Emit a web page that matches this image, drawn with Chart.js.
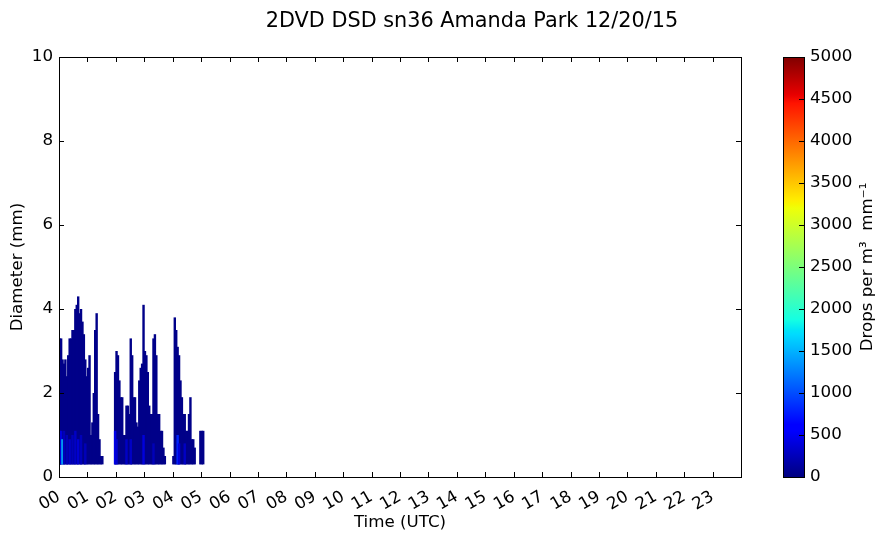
<!DOCTYPE html>
<html>
<head>
<meta charset="utf-8">
<script src="https://cdn.jsdelivr.net/npm/chart.js@4.4.1/dist/chart.umd.min.js"></script>
<style>
  html, body { margin: 0; padding: 0; background: #fff; }
  #wrap { position: relative; width: 890px; height: 543px; }
  #dsd { position: absolute; left: 0; top: 0; }
  #cbar { position: absolute; left: 750px; top: 0; }
</style>
</head>
<body>
<div id="wrap">
  <canvas id="dsd" width="750" height="543"></canvas>
  <canvas id="cbar" width="140" height="543"></canvas>
</div>
<script>
// ============================================================
// 2DVD DSD sn36 - Amanda Park 12/20/15
// ============================================================

const hourLabels = ["00", "01", "02", "03", "04", "05", "06", "07", "08", "09", "10", "11",
                    "12", "13", "14", "15", "16", "17", "18", "19", "20", "21", "22", "23"];
const diameterTicks = [0, 2, 4, 6, 8, 10];
const countTicks = [0, 500, 1000, 1500, 2000, 2500, 3000, 3500, 4000, 4500, 5000];

// 3-minute bins (start minute) and largest diameter seen (mm)
const binMinutes = [
    0, 3, 6, 9, 12, 15, 18, 21, 24, 27, 30, 33, 36, 39, 42, 45, 48, 51, 54, 57,
    60, 63, 66, 69, 72, 75, 78, 81, 84, 87, 90,
    117, 120, 123, 126, 129, 132, 135, 138, 141, 144, 147, 150, 153, 156, 159, 162, 165,
    168, 171, 174, 177, 180, 183, 186, 189, 192, 195, 198, 201, 204, 207, 210, 213, 216, 219, 222,
    240, 243, 246, 249, 252, 255, 258, 261, 264, 267, 270, 273, 276, 279, 282, 285,
    297, 300, 303
];
const topDiameter = [
    3.3, 3.3, 2.8, 2.7, 2.8, 2.4, 2.9, 3.3, 3.3, 3.5, 3.5, 4.0, 4.1, 4.3, 3.9, 4.0, 3.7, 3.4, 2.8, 2.4,
    2.6, 2.9, 1.0, 1.3, 2.0, 3.5, 3.9, 1.5, 0.9, 0.5, 0.5,
    2.5, 3.0, 2.9, 2.3, 1.9, 1.9, 1.0, 1.0, 1.7, 1.7, 1.5, 3.3, 2.9, 1.9, 1.9, 1.3, 1.2,
    2.3, 2.6, 2.7, 4.1, 3.0, 2.9, 2.5, 1.7, 1.5, 1.5, 3.3, 3.4, 2.9, 1.5, 1.5, 1.1, 1.1, 0.7, 0.5,
    0.5, 3.8, 3.5, 3.1, 2.9, 2.3, 1.9, 1.5, 1.5, 1.1, 1.1, 1.5, 1.9, 0.9, 0.9, 0.7,
    1.1, 1.1, 1.1
];
const smallestDiameter = 0.3;
const backgroundCount = 40;

// denser small-drop cells
const coreMinutes = [0, 3, 6, 9, 15, 21, 27, 33, 39, 45, 54, 117, 120, 141, 150, 177, 198, 249, 252, 264];
const coreTop     = [1.1, 1.1, 0.9, 1.1, 1.0, 0.9, 1.0, 1.1, 0.9, 1.0, 0.8, 1.1, 0.9, 0.9, 0.9, 1.0, 0.8, 1.0, 0.8, 0.8];
const coreCount   = [300, 400, 1600, 250, 250, 300, 250, 300, 350, 250, 250, 450, 350, 300, 300, 400, 250, 800, 400, 300];


// matplotlib "jet"
const jetRed   = [[0, 0], [0.35, 0], [0.66, 1], [0.89, 1], [1, 0.5]];
const jetGreen = [[0, 0], [0.125, 0], [0.375, 1], [0.64, 1], [0.91, 0], [1, 0]];
const jetBlue  = [[0, 0.5], [0.11, 1], [0.34, 1], [0.65, 0], [1, 0]];

function channel(seg, t) {
    for (let i = 1; i < seg.length; i++) {
        if (t <= seg[i][0]) {
            const f = (t - seg[i - 1][0]) / (seg[i][0] - seg[i - 1][0]);
            return seg[i - 1][1] + f * (seg[i][1] - seg[i - 1][1]);
        }
    }
    return seg[seg.length - 1][1];
}

function jet(count) {
    const t = Math.min(Math.max(count / 5000, 0), 1);
    const r = Math.round(255 * channel(jetRed, t));
    const g = Math.round(255 * channel(jetGreen, t));
    const b = Math.round(255 * channel(jetBlue, t));
    return "rgb(" + r + "," + g + "," + b + ")";
}

const FONT = "'DejaVu Sans', 'Liberation Sans', sans-serif";
Chart.defaults.font.family = FONT;
Chart.defaults.font.size = 16.7;
Chart.defaults.color = "#000";

const mainPoints = binMinutes.map((m, i) => ({ x: (m + 1.5) / 60, y: [smallestDiameter, topDiameter[i]] }));
const corePoints = coreMinutes.map((m, i) => ({ x: (m + 1.5) / 60, y: [smallestDiameter, coreTop[i]] }));

// inward ticks on the four sides + black frame + title
const frameTicks = {
    id: "frameTicks",
    afterDraw(chart) {
        const { ctx, chartArea: a, scales } = chart;
        const len = 5;
        ctx.save();
        ctx.strokeStyle = "#000";
        ctx.lineWidth = 1;
        ctx.beginPath();
        scales.x.ticks.forEach(t => {
            if (t.value >= 24) return;
            const px = Math.round(scales.x.getPixelForValue(t.value)) + 0.5;
            ctx.moveTo(px, a.bottom); ctx.lineTo(px, a.bottom - len);
            ctx.moveTo(px, a.top); ctx.lineTo(px, a.top + len);
        });
        diameterTicks.forEach(v => {
            const py = Math.round(scales.y.getPixelForValue(v)) + 0.5;
            ctx.moveTo(a.left, py); ctx.lineTo(a.left + len, py);
            ctx.moveTo(a.right, py); ctx.lineTo(a.right - len, py);
        });
        ctx.stroke();
        ctx.strokeRect(Math.round(a.left) + 0.5, Math.round(a.top) + 0.5,
                       Math.round(a.right - a.left), Math.round(a.bottom - a.top));
        ctx.fillStyle = "#000";
        ctx.font = "20.8px " + FONT;
        ctx.textAlign = "center";
        ctx.textBaseline = "alphabetic";
        ctx.fillText("2DVD DSD sn36 Amanda Park 12/20/15", 472, 27);
        ctx.restore();
    }
};

new Chart(document.getElementById("dsd").getContext("2d"), {
    type: "bar",
    data: {
        datasets: [
            {
                label: "core",
                data: corePoints,
                backgroundColor: coreCount.map(jet),
                grouped: false,
                order: 0,
                barPercentage: 1.7,
                categoryPercentage: 1
            },
            {
                label: "dsd",
                data: mainPoints,
                backgroundColor: jet(backgroundCount),
                grouped: false,
                order: 1,
                barPercentage: 1.7,
                categoryPercentage: 1
            }
        ]
    },
    options: {
        responsive: false,
        animation: false,
        layout: { padding: { left: 0, top: 57, right: 9, bottom: 0 } },
        plugins: { legend: { display: false }, tooltip: { enabled: false } },
        scales: {
            x: {
                type: "linear",
                min: 0,
                max: 24,
                offset: false,
                grid: { display: false, offset: false, drawTicks: false },
                border: { display: false },
                ticks: {
                    stepSize: 1,
                    autoSkip: false,
                    minRotation: 30,
                    maxRotation: 30,
                    padding: 10,
                    callback: v => (v < 24 ? hourLabels[v] : null)
                },
                title: { display: true, text: "Time (UTC)", padding: { top: 0, bottom: 10 } },
                afterFit: s => { s.height = 66; }
            },
            y: {
                min: 0,
                max: 10,
                grid: { display: false, drawTicks: false },
                border: { display: false },
                ticks: { stepSize: 2, padding: 6 },
                title: { display: true, text: "Diameter (mm)", padding: { top: 8, bottom: 0 } },
                afterFit: s => { s.width = 59; }
            }
        }
    },
    plugins: [frameTicks]
});


// ============================================================
// COLORBAR
// ============================================================

const jetStops = [0, 0.11, 0.125, 0.34, 0.35, 0.375, 0.64, 0.65, 0.66, 0.89, 0.91, 1];

const cbarDecor = {
    id: "cbarDecor",
    afterDraw(chart) {
        const { ctx, chartArea: a, scales } = chart;
        ctx.save();
        ctx.strokeStyle = "#000";
        ctx.lineWidth = 1;
        ctx.beginPath();
        countTicks.forEach(v => {
            const py = Math.round(scales.y.getPixelForValue(v)) + 0.5;
            ctx.moveTo(a.right, py); ctx.lineTo(a.right - 5, py);
        });
        ctx.stroke();
        ctx.strokeRect(Math.round(a.left) + 0.5, Math.round(a.top) + 0.5,
                       Math.round(a.right - a.left), Math.round(a.bottom - a.top));
        ctx.translate(118, (a.top + a.bottom) / 2);
        ctx.rotate(-Math.PI / 2);
        ctx.fillStyle = "#000";
        ctx.font = "16.7px " + FONT;
        ctx.textAlign = "center";
        ctx.textBaseline = "middle";
        ctx.fillText("Drops per m\u00b3  mm\u207b\u00b9", 0, 0);
        ctx.restore();
    }
};

new Chart(document.getElementById("cbar").getContext("2d"), {
    type: "bar",
    data: {
        labels: [""],
        datasets: [{
            data: [[0, 5000]],
            barPercentage: 1,
            categoryPercentage: 1,
            backgroundColor: c => {
                const area = c.chart.chartArea;
                if (!area) return jet(0);
                const g = c.chart.ctx.createLinearGradient(0, area.bottom, 0, area.top);
                jetStops.forEach(s => g.addColorStop(s, jet(s * 5000)));
                return g;
            }
        }]
    },
    options: {
        responsive: false,
        animation: false,
        layout: { padding: { left: 33, top: 57, right: 0, bottom: 66 } },
        plugins: { legend: { display: false }, tooltip: { enabled: false } },
        scales: {
            x: { display: false },
            y: {
                position: "right",
                min: 0,
                max: 5000,
                grid: { display: false, drawTicks: false },
                border: { display: false },
                ticks: { stepSize: 500, padding: 6, callback: v => String(v) },
                afterFit: s => { s.width = 86; }
            }
        }
    },
    plugins: [cbarDecor]
});
</script>
</body>
</html>
